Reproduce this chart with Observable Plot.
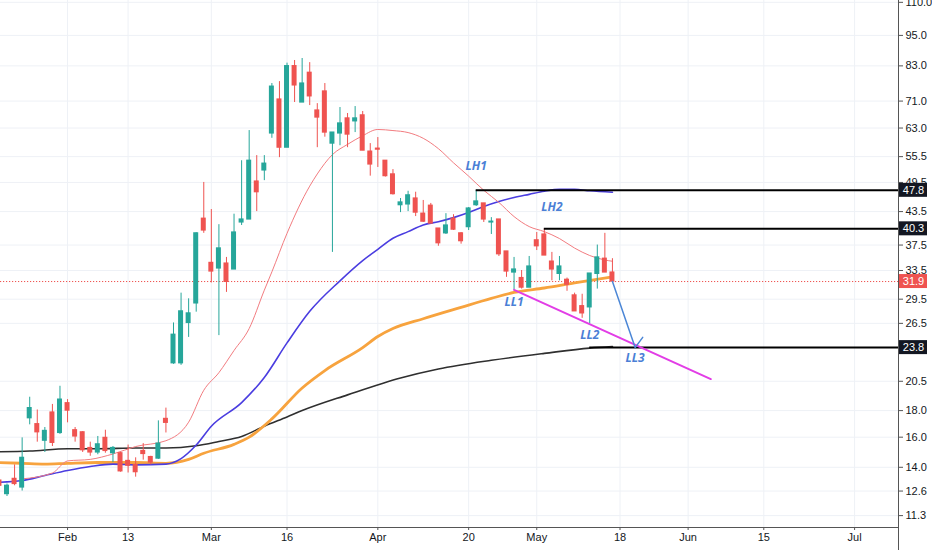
<!DOCTYPE html>
<html><head><meta charset="utf-8">
<script src="https://cdn.jsdelivr.net/npm/d3@7"></script>
<script src="https://cdn.jsdelivr.net/npm/@observablehq/plot@0.6"></script>
<style>
body{margin:0;background:#fff}
#chart{width:932px;height:550px;overflow:hidden}
</style>
</head><body><div id="chart"></div>
<script>
// ---- candles (daily, trading days) ----
const dates = ["2020-01-21","2020-01-22","2020-01-23","2020-01-24","2020-01-27","2020-01-28","2020-01-29","2020-01-30","2020-01-31",
"2020-02-03","2020-02-04","2020-02-05","2020-02-06","2020-02-07","2020-02-10","2020-02-11","2020-02-12","2020-02-13","2020-02-14",
"2020-02-18","2020-02-19","2020-02-20","2020-02-21","2020-02-24","2020-02-25","2020-02-26","2020-02-27","2020-02-28",
"2020-03-02","2020-03-03","2020-03-04","2020-03-05","2020-03-06","2020-03-09","2020-03-10","2020-03-11","2020-03-12","2020-03-13",
"2020-03-16","2020-03-17","2020-03-18","2020-03-19","2020-03-20","2020-03-23","2020-03-24","2020-03-25","2020-03-26","2020-03-27",
"2020-03-30","2020-03-31","2020-04-01","2020-04-02","2020-04-03","2020-04-06","2020-04-07","2020-04-08","2020-04-09",
"2020-04-13","2020-04-14","2020-04-15","2020-04-16","2020-04-17","2020-04-20","2020-04-21","2020-04-22","2020-04-23","2020-04-24",
"2020-04-27","2020-04-28","2020-04-29","2020-04-30","2020-05-01","2020-05-04","2020-05-05","2020-05-06","2020-05-07","2020-05-08",
"2020-05-11","2020-05-12","2020-05-13","2020-05-14","2020-05-15"];
const open  = [13.2,12.43,13.3,12.8,17.4,16.95,15.75,17.85,16.3, 18.6,16.5,16.35,15.25,14.95,15.95,14.9,14.9,14.4,14.15,
15.05,14.65,14.55,17.35,22.2,22.2,26.55,28.95,42.15, 34.65,33.8,34.55,33.65,41.45,42.0,49.7,52.2,61.5,71.5,
57.75,82.9,70.55,80.5,68.1,74.1,58.8,61.5,65.75,64.9, 66.65,56.75,57.5,54.5,51.3,44.75,44.9,46.1,43.1,
44.65,40.35,39.5,42.15,39.5,40.6,44.75,45.1,41.45,42.0, 36.45,33.2,32.4,31.05,38.3,39.3,34.85,33.0,32.15,30.0,
28.6,28.45,33.0,35.3,33.2];
const high  = [13.3,13.0,14.15,15.95,19.1,18.05,16.7,18.5,20.05, 18.9,16.7,16.4,15.65,16.05,16.5,15.35,14.95,15.45,14.6,
15.55,14.7,17.2,18.2,26.55,30.3,29.55,39.6,49.5, 43.9,41.05,35.5,43.0,54.5,62.3,55.75,55.75,76.75,77.4,
84.0,85.0,85.75,84.2,70.2,76.75,61.75,69.0,67.2,69.3, 67.8,58.8,60.4,54.5,52.4,46.1,47.6,47.4,45.7,
45.1,40.35,43.1,42.9,39.65,44.3,47.8,45.1,42.35,42.0, 36.45,35.5,33.5,35.65,39.65,40.3,36.3,35.65,32.4,30.3,
30.15,33.05,37.5,39.5,35.3];
const low   = [12.8,12.3,12.9,12.6,16.9,15.65,14.95,15.35,16.2, 17.05,15.65,14.95,14.7,14.8,14.9,14.3,13.7,13.65,13.4,
14.45,14.15,14.5,16.3,22.1,22.0,24.9,27.85,39.5, 31.7,25.1,30.4,33.65,40.9,42.0,43.5,49.9,60.2,55.25,
57.75,70.55,70.55,69.6,57.75,60.5,36.3,58.25,57.75,61.75, 57.0,50.9,52.9,50.7,46.8,43.3,43.5,42.55,41.45,
41.25,37.3,39.3,40.0,37.65,40.0,44.5,41.45,39.3,35.65, 32.5,30.75,30.85,31.05,36.6,35.8,32.0,32.0,30.55,27.95,
27.1,26.45,30.85,33.2,31.75];
const close = [12.9,12.9,13.0,14.6,18.2,16.35,16.45,15.6,18.9, 18.0,16.05,15.1,14.95,15.5,15.05,15.25,13.75,14.1,13.7,
14.85,14.3,15.55,17.05,25.2,27.95,27.7,39.5,40.0, 33.35,36.95,31.85,39.65,42.0,54.5,47.4,53.8,75.7,57.75,
82.9,76.1,76.75,72.5,66.0,61.75,61.75,64.3,61.2,65.75, 57.0,53.6,57.25,50.9,47.0,45.3,46.75,43.3,41.6,
41.25,37.8,40.9,40.15,38.15,44.1,45.5,42.0,41.6,36.0, 33.35,33.65,31.05,34.1,37.3,35.8,33.65,34.1,31.45,27.95,
27.7,33.05,35.5,33.2,31.9];

// ---- moving averages (read at sample days) ----
const maFastDates = ["2020-01-24","2020-01-30","2020-02-03","2020-02-06","2020-02-11","2020-02-14","2020-02-21","2020-02-26","2020-02-28",
"2020-03-03","2020-03-05","2020-03-09","2020-03-11","2020-03-12","2020-03-16","2020-03-19","2020-03-20","2020-03-24","2020-03-26","2020-03-30",
"2020-04-01","2020-04-03","2020-04-07","2020-04-09","2020-04-14","2020-04-16","2020-04-20","2020-04-22","2020-04-24","2020-04-28","2020-04-30",
"2020-05-04","2020-05-06","2020-05-08","2020-05-12","2020-05-14","2020-05-15"];
const maFastValues = [13.3,13.65,14.4,14.5,14.85,15.35,15.75,17.1,19.7, 21.3,23.5,25.9,30.7,33.3,39.5,48.7,51.4,56.0,58.6,60.9,
62.6,62.3,61.75,60.2,57.5,54.0,50.9,47.8,45.3,42.55,40.7, 39.8,38.6,37.0,35.8,35.1,34.9];

const maMidDates = ["2020-01-21","2020-01-24","2020-01-29","2020-02-03","2020-02-06","2020-02-11","2020-02-14","2020-02-21","2020-02-25","2020-02-27",
"2020-03-02","2020-03-06","2020-03-11","2020-03-16","2020-03-19","2020-03-25","2020-03-30","2020-04-01","2020-04-03","2020-04-07","2020-04-09",
"2020-04-14","2020-04-16","2020-04-20","2020-04-22","2020-04-24","2020-04-28","2020-04-30","2020-05-04","2020-05-06","2020-05-08","2020-05-12","2020-05-15"];
const maMidValues = [13.1,13.2,13.5,13.8,14.05,14.2,14.15,14.2,14.55,15.45, 16.8,18.65,20.85,24.3,27.95,32.0,35.0,36.8,38.65,39.8,41.0,
41.6,42.35,43.3,44.5,45.5,46.3,46.95,47.6,48.0,48.0,47.7,47.4];

const maSlowDates = ["2020-01-21","2020-01-24","2020-01-29","2020-02-03","2020-02-07","2020-02-14","2020-02-21","2020-02-26","2020-02-28",
"2020-03-05","2020-03-09","2020-03-12","2020-03-18","2020-03-23","2020-03-30","2020-04-01","2020-04-03","2020-04-09","2020-04-17",
"2020-04-23","2020-04-28","2020-05-04","2020-05-08","2020-05-15"];
const maSlowValues = [14.3,14.25,14.2,14.25,14.3,14.3,14.25,14.5,14.9, 15.5,16.0,17.35,19.9,21.5,23.8,25.0,25.9,27.05,28.45,
29.6,30.4,31.0,31.7,32.55];

const maLongDates = ["2020-01-21","2020-01-27","2020-02-03","2020-02-07","2020-02-14","2020-02-21","2020-02-27","2020-03-03","2020-03-06",
"2020-03-11","2020-03-16","2020-03-18","2020-03-26","2020-04-06","2020-04-14","2020-04-23","2020-05-04","2020-05-12","2020-05-15"];
const maLongValues = [15.0,15.05,15.2,15.2,15.25,15.25,15.4,15.7,16.05, 16.8,17.5,18.0,19.3,20.8,21.65,22.5,23.2,23.75,23.9];

// ---- drawings ----
const levelValues = [47.8, 40.3, 23.8];
const levelStarts = ["2020-04-21","2020-05-04","2020-05-12"];
const lastPrice = 31.9;
const trendDates = ["2020-04-28","2020-06-04"];
const trendValues = [30.75, 20.7];
const arrowDates = ["2020-05-15","2020-05-20","2020-05-21"];
const arrowValues = [31.9, 23.8, 24.9];
const noteTexts = ["LH1","LH2","LL1","LL2","LL3"];
const noteDates = ["2020-04-21","2020-05-05","2020-04-28","2020-05-12","2020-05-20"];
const noteValues = [53.1, 44.3, 29.1, 25.2, 22.7];

// ---- axes ----
const yTicks = [110.0,95.0,83.0,71.0,63.0,55.5,49.5,43.5,37.5,33.5,29.5,26.5,20.5,18.0,16.0,14.0,12.6,11.3];
const xTickDates = ["2020-02-03","2020-02-13","2020-03-02","2020-03-16","2020-04-01","2020-04-20","2020-05-01","2020-05-18","2020-06-01","2020-06-15","2020-07-01"];
const xTickLabels = ["Feb","13","Mar","16","Apr","20","May","18","Jun","15","Jul"];

// trading calendar (weekdays minus US market holidays)
const holidays = ["2020-02-17","2020-04-10","2020-05-25","2020-07-03"];
const cal = [];
for (let d = new Date(Date.UTC(2020,0,21)); d <= new Date(Date.UTC(2020,7,31)); d.setUTCDate(d.getUTCDate()+1)) {
  const wd = d.getUTCDay(), s = d.toISOString().slice(0,10);
  if (wd === 0 || wd === 6 || holidays.includes(s)) continue;
  cal.push(s);
}
const idx = s => cal.indexOf(s) - 1;

const candles = dates.map((d,i) => ({i: idx(d), o: open[i], h: high[i], l: low[i], c: close[i], up: close[i] >= open[i]}));
const series = (ds, vs) => ds.map((d,i) => ({i: idx(d), v: vs[i]}));
const fast = series(maFastDates, maFastValues);
const mid = series(maMidDates, maMidValues);
const slow = series(maSlowDates, maSlowValues);
const long = series(maLongDates, maLongValues);
const levels = levelValues.map((v,k) => ({v, i: idx(levelStarts[k])}));
const trend = series(trendDates, trendValues);
const arrow = series(arrowDates, arrowValues);
const notes = noteTexts.map((t,k) => ({t, i: idx(noteDates[k]), v: noteValues[k]}));
const xTicks = xTickDates.map(idx);
const xLabel = new Map(xTicks.map((t,k) => [t, xTickLabels[k]]));

const xDomain = [-0.86, 117.8];
const xMax = xDomain[1];
const GREEN = "#26a69a", RED = "#ef5350";
const hw = 0.33;

const chart = Plot.plot({
  width: 932, height: 550,
  marginLeft: 0, marginRight: 34, marginTop: 0, marginBottom: 23,
  style: {fontFamily: "'Liberation Sans', Arial, sans-serif", fontSize: "11px", color: "#131722", background: "#fff"},
  x: {type: "linear", domain: xDomain, axis: null, label: null},
  y: {type: "log", domain: [10.72, 110.9], axis: null, label: null},
  marks: [
    Plot.ruleY(yTicks, {stroke: "#eef1f6", strokeWidth: 1}),
    Plot.ruleX(xTicks, {stroke: "#eef1f6", strokeWidth: 1}),
    Plot.axisY({anchor: "right", label: null, ticks: yTicks, tickFormat: d => d.toFixed(1), tickSize: 4, tickPadding: 3, stroke: "#555", fill: "#131722", fontSize: 11}),
    Plot.axisX({anchor: "bottom", label: null, ticks: xTicks, tickFormat: d => xLabel.get(d), tickSize: 3, tickPadding: 3, stroke: "#555", fill: "#131722", fontSize: 11}),
    Plot.ruleY([lastPrice], {stroke: RED, strokeWidth: 1, strokeDasharray: "1.2,1.8"}),
    Plot.line(long, {x: "i", y: "v", stroke: "#2f2f2f", strokeWidth: 1.6, curve: "monotone-x"}),
    Plot.line(slow, {x: "i", y: "v", stroke: "#f7a33e", strokeWidth: 2.8, curve: "monotone-x"}),
    Plot.line(mid, {x: "i", y: "v", stroke: "#4a3de0", strokeWidth: 1.6, curve: "monotone-x"}),
    Plot.line(fast, {x: "i", y: "v", stroke: "#f27c80", strokeWidth: 1, curve: "monotone-x"}),
    Plot.ruleX(candles, {x: "i", y1: "l", y2: "h", stroke: d => d.up ? GREEN : RED, strokeWidth: 1}),
    Plot.rect(candles, {x1: d => d.i - hw, x2: d => d.i + hw, y1: "o", y2: "c", fill: d => d.up ? GREEN : RED, insetTop: -0.6, insetBottom: -0.6}),
    Plot.ruleY(levels, {y: "v", x1: "i", x2: xMax, stroke: "#000", strokeWidth: 2}),
    Plot.line(trend, {x: "i", y: "v", stroke: "#e23de6", strokeWidth: 2}),
    Plot.line(arrow, {x: "i", y: "v", stroke: "#4b86d6", strokeWidth: 1.5}),
    Plot.text(notes, {x: "i", y: "v", text: "t", fill: "#4b7fd6", fontSize: 12, fontStyle: "italic", fontWeight: "bold", fontFamily: "'Open Sans', sans-serif"}),
    Plot.rect(levelValues, {x1: xMax, x2: xMax, y1: d => d, y2: d => d, insetLeft: 1, insetRight: -29, insetTop: -7, insetBottom: -7, fill: "#131722"}),
    Plot.text(levelValues, {x: xMax, y: d => d, text: d => d.toFixed(1), dx: 15, fill: "#fff", fontSize: 11, textAnchor: "middle"}),
    Plot.rect([lastPrice], {x1: xMax, x2: xMax, y1: d => d, y2: d => d, insetLeft: 1, insetRight: -29, insetTop: -7, insetBottom: -7, fill: RED}),
    Plot.text([lastPrice], {x: xMax, y: d => d, text: d => d.toFixed(1), dx: 15, fill: "#fff", fontSize: 11, textAnchor: "middle"})
  ]
});
document.getElementById("chart").appendChild(chart);
// axis border lines
const svg = d3.select(chart);
svg.append("line").attr("x1", 0).attr("x2", 898).attr("y1", 527.5).attr("y2", 527.5).attr("stroke", "#555");
svg.append("line").attr("x1", 898.5).attr("x2", 898.5).attr("y1", 0).attr("y2", 550).attr("stroke", "#555");
</script>
</body></html>
